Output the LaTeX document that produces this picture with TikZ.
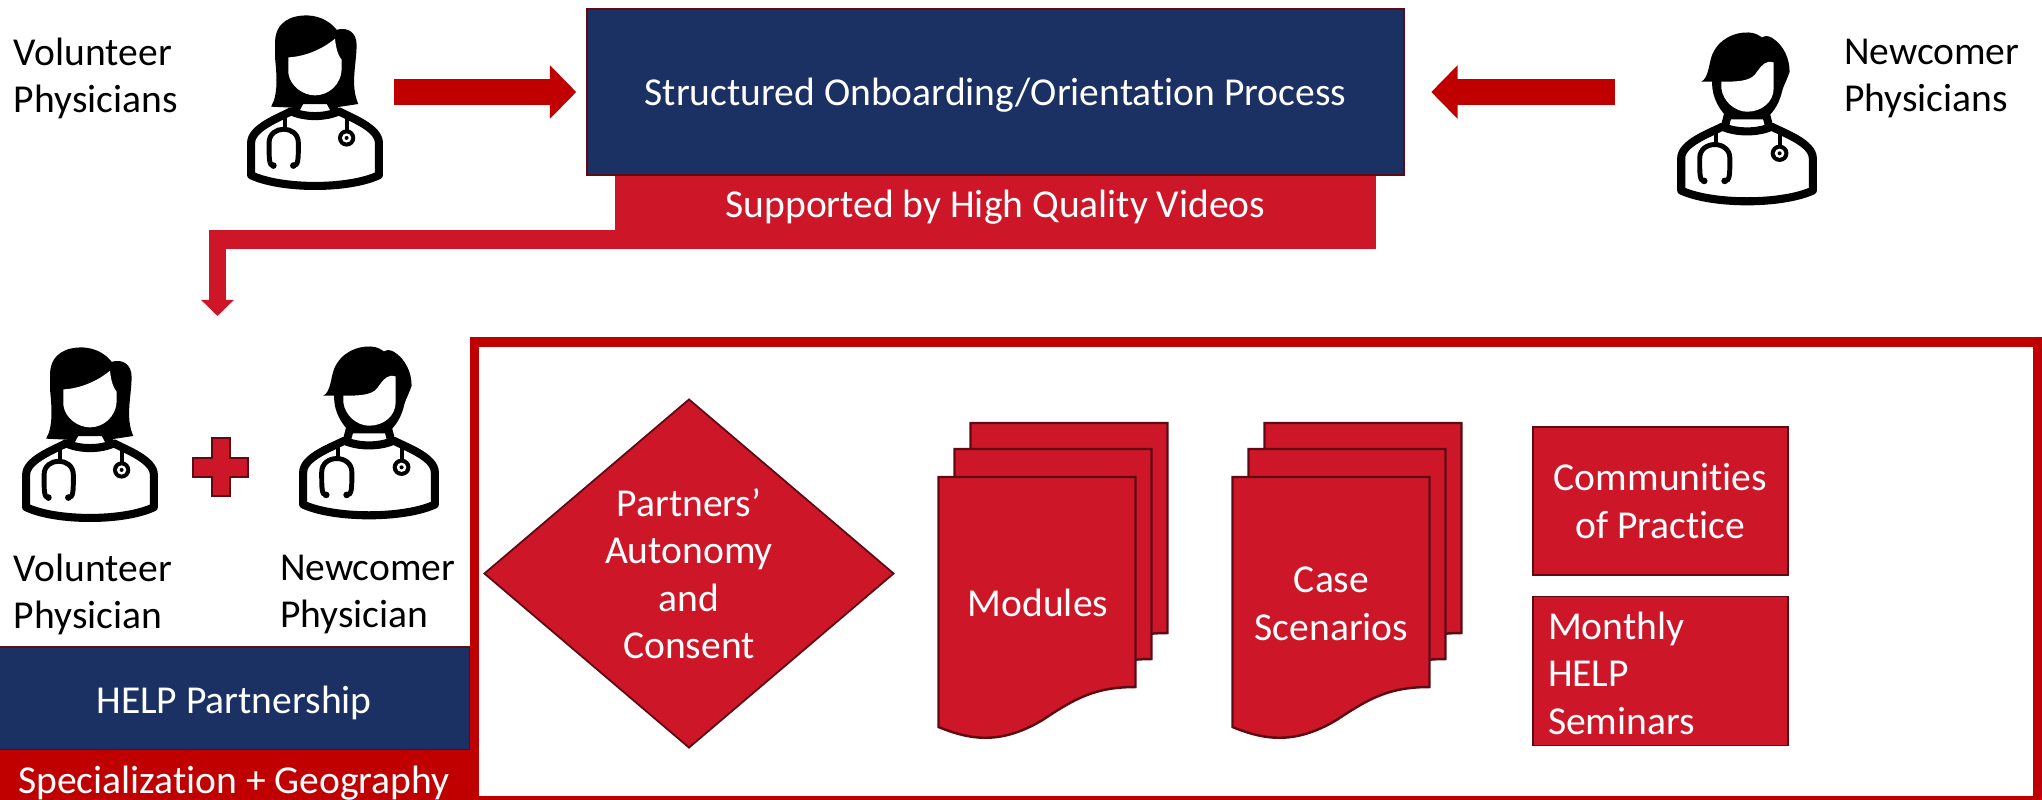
\documentclass[tikz,border=0pt]{standalone}
\usepackage{fontspec}
\setmainfont[Ligatures=CommonOff]{Carlito}
\usepackage{tikz}
\usetikzlibrary{arrows.meta,shapes.geometric}
\definecolor{helpnavy}{HTML}{1B3164}
\definecolor{helpred}{HTML}{CD1729}
\definecolor{deepred}{HTML}{C00000}
\definecolor{edgered}{HTML}{5F0A12}
\tikzset{
  every node/.style={font=\fontsize{11.25}{13.5}\selectfont,inner sep=0pt,outer sep=0pt},
  plaintext/.style={align=left,anchor=west},
  whitetext/.style={text=white,align=center},
  navybox/.style={draw=edgered,line width=0.5pt,fill=helpnavy,whitetext},
  redbox/.style={draw=edgered,line width=0.5pt,fill=helpred,whitetext},
  redband/.style={fill=helpred,whitetext},
  deepband/.style={fill=deepred,whitetext},
  bigarrow/.style={draw=deepred,line width=7.4pt,-{Triangle[length=7.5pt,width=14.8pt]}},
  pagesheet/.style={draw=edgered,line width=0.7pt,fill=helpred},
  docline/.style={draw=black,line width=2.3pt,line join=round},
  docbody/.pic={
    \draw[docline,fill=white] (-192,197) -- (-192,100) .. controls (-192,55) and (-110,25) .. (-72,5)
      .. controls (-30,24) and (30,24) .. (72,5) .. controls (110,25) and (192,55) .. (192,100)
      -- (192,197) .. controls (100,240) and (-100,240) .. (-192,197) -- cycle;
    \draw[line width=1.1pt] (-90,15) -- (-90,55);
    \draw[line width=1.1pt] (95,15) -- (95,60);
    \draw[line width=1.4pt] (-125,168) .. controls (-138,168) and (-138,150) .. (-138,100)
      .. controls (-138,45) and (-50,45) .. (-50,100) .. controls (-50,150) and (-50,168) .. (-65,168);
    \fill (-125,168) circle [radius=10];
    \fill (-65,168) circle [radius=10];
    \fill (95,85) circle [radius=26];
    \fill[white] (95,85) circle [radius=14];
    \fill (95,85) circle [radius=6];
  },
  femdoc/.pic={
    \begin{scope}[x=0.003333cm,y=-0.003333cm,shift={(-270,-300)}]
    \pic at (270,335) {docbody};
    \draw[docline] (225,310) -- (205,347);
    \draw[docline] (315,310) -- (335,347);
    \fill (138,326) .. controls (160,290) and (155,230) .. (150,180) -- (150,130)
      .. controls (152,70) and (200,50) .. (250,52) .. controls (290,54) and (320,75) .. (335,95)
      .. controls (370,85) and (395,105) .. (395,140) .. controls (395,200) and (375,260) .. (400,318)
      -- (320,330) -- (318,318) -- (225,318) -- (222,330) -- cycle;
    \fill[white] (190,178) -- (190,225) .. controls (195,265) and (235,292) .. (270,292)
      .. controls (310,292) and (350,260) .. (350,210) -- (350,185) .. controls (335,165) and (332,140) .. (330,122)
      .. controls (290,155) and (240,175) .. (190,178) -- cycle;
    \end{scope}
  },
  maledoc/.pic={
    \begin{scope}[x=0.003333cm,y=-0.003333cm,shift={(-320,-360)}]
    \pic[xscale=1.03] at (320,375) {docbody};
    \draw[docline] (265,335) -- (252,385);
    \draw[docline] (375,335) -- (388,385);
    \fill (182,245) .. controls (205,235) and (205,190) .. (215,165) .. controls (235,115) and (285,95) .. (325,97)
      .. controls (345,98) and (355,105) .. (365,112) .. controls (375,105) and (385,108) .. (395,113)
      .. controls (430,135) and (448,175) .. (448,215) .. controls (440,240) and (428,260) .. (425,275)
      .. controls (415,320) and (390,345) .. (375,358) -- (265,358) .. controls (240,330) and (215,300) .. (215,245) -- cycle;
    \fill[white] (243,245) -- (243,265) .. controls (248,305) and (285,335) .. (320,335)
      .. controls (365,335) and (400,305) .. (400,265) -- (400,187) .. controls (375,180) and (365,195) .. (350,215)
      .. controls (335,240) and (310,245) .. (243,245) -- cycle;
    \end{scope}
  },
  pagestack/.pic={
    \foreach \dx/\dy in {32/-54,16/-28,0/0} {
      \draw[pagesheet,shift={(\dx,\dy)}] (0,0) -- (197,0) -- (197,210) .. controls (157,210) and (137,221) .. (104,243)
        .. controls (62,268) and (32,263) .. (0,250) -- cycle;
    }
  }
}
\begin{document}
\begin{tikzpicture}[x=0.01cm,y=-0.01cm]
\useasboundingbox (0,0) rectangle (2042,799);
% top row
\node[plaintext] (voltop) at (14,78.5) {Volunteer\\Physicians};
\node[plaintext] (newtop) at (1844,78.5) {Newcomer\\Physicians};
\pic (volicon) at (315,98) {femdoc};
\pic (newicon) at (1747,120) {maledoc};
\node[redband,minimum width=7.61cm,minimum height=0.74cm,text height=5.5pt,text depth=2.4pt] (mainsub) at (995.5,212) {Supported by High Quality Videos};
\node[navybox,minimum width=8.17cm,minimum height=1.66cm,text height=10.3pt,text depth=2.5pt] (mainbox) at (995.5,92) {Structured Onboarding/Orientation Process};
\coordinate (volstart) at (393.5,92);
\coordinate (newstart) at (1615,92);
\draw[bigarrow,shorten >=0.105cm] (volstart) -- (mainbox.west);
\draw[bigarrow,shorten >=0.27cm] (newstart) -- (mainbox.east);
% elbow down to the partners
\coordinate (elbowstart) at (615,239.5);
\coordinate (elbowcorner) at (209,239.5);
\coordinate (elbowturn) at (217.5,230);
\coordinate (elbowend) at (217.5,316);
\draw[helpred,line width=5.4pt] (elbowstart) -- (elbowcorner);
\draw[helpred,line width=4.6pt,-{Triangle[length=4.6pt,width=9.1pt]}] (elbowturn) -- (elbowend);
% partnership
\pic (volpair) at (90,430) {femdoc};
\pic (newpair) at (369,434) {maledoc};
\draw[draw=edgered,line width=0.5pt,fill=helpred] (212,438) -- (230,438) -- (230,458) -- (248,458) -- (248,477) -- (230,477)
  -- (230,496) -- (212,496) -- (212,477) -- (193,477) -- (193,458) -- (212,458) -- cycle;
\node[plaintext] (vollabel) at (14,594.5) {Volunteer\\Physician};
\node[plaintext] (newlabel) at (280,594.5) {Newcomer\\Physician};
\node[navybox,minimum width=4.72cm,minimum height=1.03cm,text height=10.4pt,text depth=2.1pt] (helpband) at (234,698.5) {HELP Partnership};
\node[deepband,minimum width=4.72cm,minimum height=0.66cm] (geoband) at (234,783) {Specialization + Geography};
% supports frame
\draw[deepred,line width=2.6pt] (474.5,342) rectangle (2037.5,800.5);
\node[diamond,redbox,minimum width=4.09cm,minimum height=3.48cm,shape aspect=1.175] (consent) at (689,573.5) {Partners’\\Autonomy\\and\\Consent};
\pic at (938.5,477) {pagestack};
\node[whitetext] (modules) at (1038,603) {Modules};
\pic at (1232.5,477) {pagestack};
\node[whitetext] (cases) at (1331.5,604) {Case\\Scenarios};
\node[redbox,minimum width=2.55cm,minimum height=1.48cm] (practice) at (1660.5,501) {Communities\\of Practice};
\node[redbox,minimum width=2.55cm,minimum height=1.49cm] (seminars) at (1660.5,671) {};
\node[whitetext,align=left,anchor=west] (seminartext) at (1548,673) {Monthly\\HELP\\Seminars};
\end{tikzpicture}
\end{document}
